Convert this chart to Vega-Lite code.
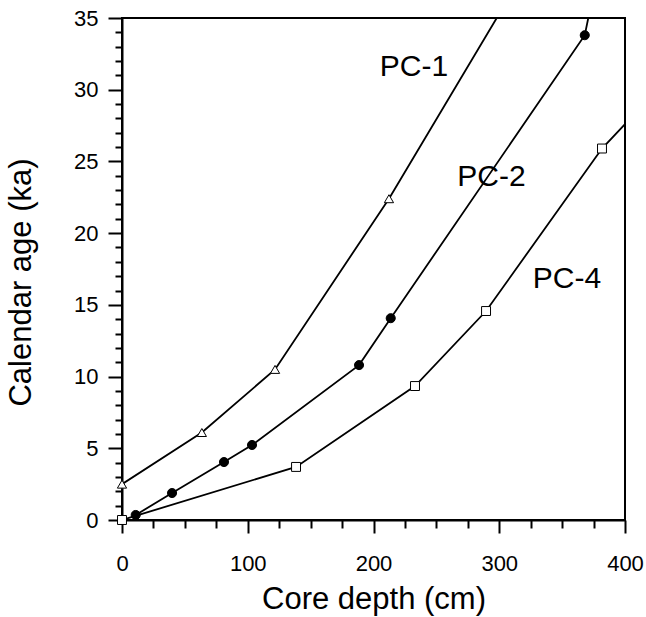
{
  "$schema": "https://vega.github.io/schema/vega-lite/v6.json",
  "width": 503,
  "height": 502,
  "autosize": {"type": "none"},
  "padding": {"left": 122, "top": 18, "right": 21, "bottom": 97},
  "background": "white",
  "config": {
    "font": "Liberation Sans",
    "view": {"stroke": "black", "strokeWidth": 2},
    "axis": {
      "grid": false,
      "domainColor": "black",
      "domainWidth": 2,
      "tickColor": "black",
      "tickWidth": 2,
      "labelColor": "black",
      "labelFontSize": 22,
      "labelFont": "Liberation Sans",
      "labelOverlap": false,
      "titleFont": "Liberation Sans",
      "titleFontSize": 31,
      "titleFontWeight": "normal",
      "titleColor": "black"
    }
  },
  "datasets": {
    "cores": [
      {"series": "PC-1", "depth": 0, "age": 2.5, "marker": true},
      {"series": "PC-1", "depth": 63.5, "age": 6.1, "marker": true},
      {"series": "PC-1", "depth": 121.7, "age": 10.5, "marker": true},
      {"series": "PC-1", "depth": 212.3, "age": 22.4, "marker": true},
      {"series": "PC-1", "depth": 298, "age": 35, "marker": false},
      {"series": "PC-2", "depth": 10.9, "age": 0.35, "marker": true},
      {"series": "PC-2", "depth": 39.8, "age": 1.88, "marker": true},
      {"series": "PC-2", "depth": 81.1, "age": 4.04, "marker": true},
      {"series": "PC-2", "depth": 103.4, "age": 5.23, "marker": true},
      {"series": "PC-2", "depth": 188.5, "age": 10.8, "marker": true},
      {"series": "PC-2", "depth": 213.7, "age": 14.07, "marker": true},
      {"series": "PC-2", "depth": 368, "age": 33.8, "marker": true},
      {"series": "PC-2", "depth": 370.8, "age": 35, "marker": false},
      {"series": "PC-4", "depth": 0, "age": 0, "marker": true},
      {"series": "PC-4", "depth": 138.4, "age": 3.7, "marker": true},
      {"series": "PC-4", "depth": 233, "age": 9.34, "marker": true},
      {"series": "PC-4", "depth": 289.5, "age": 14.57, "marker": true},
      {"series": "PC-4", "depth": 381.7, "age": 25.9, "marker": true},
      {"series": "PC-4", "depth": 400, "age": 27.6, "marker": false}
    ],
    "labels": [
      {"label": "PC-1", "depth": 232.2, "age": 31.6},
      {"label": "PC-2", "depth": 293.8, "age": 23.9},
      {"label": "PC-4", "depth": 353.9, "age": 16.8}
    ]
  },
  "layer": [
    {
      "data": {"name": "cores"},
      "mark": {"type": "line", "color": "black", "strokeWidth": 1.8, "clip": true},
      "encoding": {
        "x": {
          "field": "depth", "type": "quantitative",
          "scale": {"domain": [0, 400], "nice": false, "zero": false},
          "axis": {
            "title": "Core depth (cm)",
            "values": [0, 25, 50, 75, 100, 125, 150, 175, 200, 225, 250, 275, 300, 325, 350, 375, 400],
            "tickCount": 100,
            "format": "d",
            "labelExpr": "datum.value % 100 === 0 ? datum.label : ''",
            "tickSize": {"condition": {"test": "datum.value % 100 === 0", "value": 13}, "value": 8},
            "labelPadding": 20,
            "titlePadding": 10,
            "labelFlush": false
          }
        },
        "y": {
          "field": "age", "type": "quantitative",
          "scale": {"domain": [0, 35], "nice": false, "zero": false},
          "axis": {
            "title": "Calendar age (ka)",
            "values": [0,1,2,3,4,5,6,7,8,9,10,11,12,13,14,15,16,17,18,19,20,21,22,23,24,25,26,27,28,29,30,31,32,33,34,35],
            "tickCount": 100,
            "format": "d",
            "labelExpr": "datum.value % 5 === 0 ? datum.label : ''",
            "tickSize": {"condition": {"test": "datum.value % 5 === 0", "value": 14}, "value": 7},
            "labelPadding": 10,
            "titlePadding": 36,
            "titleY": 264,
            "labelFlush": false
          }
        },
        "detail": {"field": "series"},
        "order": {"field": "depth", "type": "quantitative"}
      }
    },
    {
      "data": {"name": "cores"},
      "transform": [{"filter": "datum.marker"}],
      "mark": {"type": "point", "filled": true, "stroke": "black", "strokeWidth": 1, "opacity": 1},
      "encoding": {
        "x": {"field": "depth", "type": "quantitative"},
        "y": {"field": "age", "type": "quantitative"},
        "shape": {
          "field": "series", "type": "nominal",
          "scale": {"domain": ["PC-1", "PC-2", "PC-4"], "range": ["triangle-up", "circle", "square"]},
          "legend": null
        },
        "fill": {
          "field": "series", "type": "nominal",
          "scale": {"domain": ["PC-1", "PC-2", "PC-4"], "range": ["white", "black", "white"]},
          "legend": null
        },
        "size": {
          "field": "series", "type": "nominal",
          "scale": {"domain": ["PC-1", "PC-2", "PC-4"], "range": [85, 80, 100]},
          "legend": null
        }
      }
    },
    {
      "data": {"name": "labels"},
      "mark": {"type": "text", "fontSize": 30, "font": "Liberation Sans", "color": "black", "align": "center", "baseline": "middle"},
      "encoding": {
        "x": {"field": "depth", "type": "quantitative"},
        "y": {"field": "age", "type": "quantitative"},
        "text": {"field": "label"}
      }
    }
  ]
}
